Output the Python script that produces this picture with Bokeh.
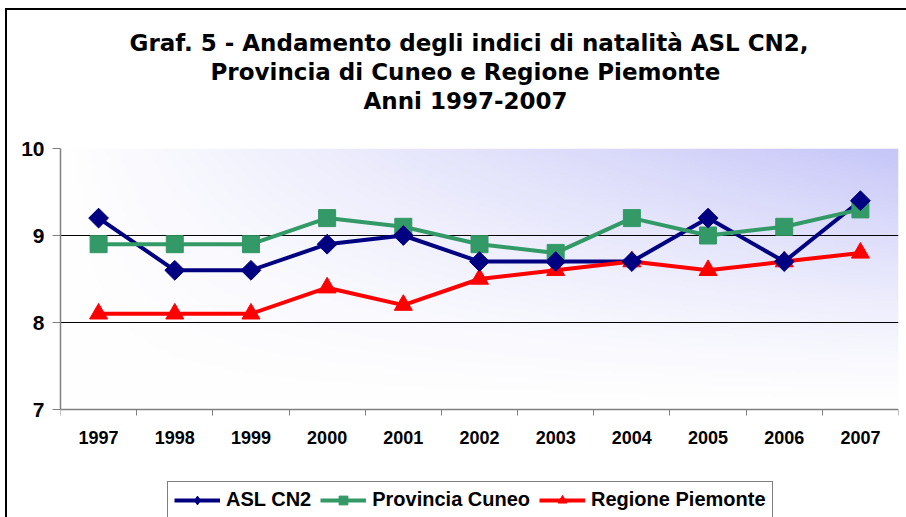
import numpy as np
from bokeh.plotting import figure
from bokeh.models import (FixedTicker, Legend, LegendItem, Title, Range1d,
                          ColumnDataSource)
from bokeh.embed import file_html
from bokeh.resources import INLINE

# ---------------- data ----------------
years = ["1997", "1998", "1999", "2000", "2001", "2002",
         "2003", "2004", "2005", "2006", "2007"]
asl_cn2 = [9.2, 8.6, 8.6, 8.9, 9.0, 8.7, 8.7, 8.7, 9.2, 8.7, 9.4]
provincia_cuneo = [8.9, 8.9, 8.9, 9.2, 9.1, 8.9, 8.8, 9.2, 9.0, 9.1, 9.3]
regione_piemonte = [8.1, 8.1, 8.1, 8.4, 8.2, 8.5, 8.6, 8.7, 8.6, 8.7, 8.8]
y_ticks = [7, 8, 9, 10]
series_names = ["ASL CN2", "Provincia Cuneo", "Regione Piemonte"]
title_lines = ["Graf. 5 - Andamento degli indici di natalità ASL CN2,",
               "Provincia di Cuneo e Regione Piemonte",
               "Anni 1997-2007"]

NAVY = "#000080"
GREEN = "#339966"
RED = "#FF0000"
FONT = "Liberation Sans"
TFONT = "DejaVu Sans"

n = len(years)
xs = list(range(n))
x_lo, x_hi = -0.5, n - 0.5
y_lo, y_hi = y_ticks[0], y_ticks[-1]

# layout: the plotting area (7..10) is 261px tall; below it 108px hold the
# axis labels and the legend inside the same frame
PLOT_PX = 261
EXTRA_PX = 108
y_bottom = y_lo - (y_hi - y_lo) * EXTRA_PX / PLOT_PX

p = figure(frame_width=838, frame_height=PLOT_PX + EXTRA_PX,
           output_backend="svg", toolbar_location=None, title=None,
           x_range=Range1d(x_lo, x_hi), y_range=Range1d(y_bottom, y_hi),
           min_border_left=53, min_border_right=8,
           min_border_top=138, min_border_bottom=0)
p.margin = (8, 0, 0, 5)
p.styles = {"border-top": "2px solid #000000", "border-left": "2px solid #000000"}
p.outline_line_color = None
p.background_fill_color = "white"
p.border_fill_color = "white"

# ---------------- gradient background ----------------
nx, ny = 240, 120
xf = np.linspace(0, 1, nx)
yf = np.linspace(0, 1, ny)
t = np.outer(yf ** 1.3, xf)
img = np.empty((ny, nx), dtype=np.uint32)
view = img.view(dtype=np.uint8).reshape((ny, nx, 4))
view[:, :, 0] = (255 - t * 57).astype(np.uint8)
view[:, :, 1] = (255 - t * 57).astype(np.uint8)
view[:, :, 2] = (255 - t * 7).astype(np.uint8)
view[:, :, 3] = 255
p.image_rgba(image=[img], x=x_lo, y=y_lo, dw=x_hi - x_lo, dh=y_hi - y_lo,
             level="image")

# ---------------- series ----------------
src = ColumnDataSource(dict(x=xs, asl=asl_cn2, prov=provincia_cuneo, reg=regione_piemonte))

l1 = p.line("x", "asl", source=src, line_color=NAVY, line_width=4)
l2 = p.line("x", "prov", source=src, line_color=GREEN, line_width=4)
l3 = p.line("x", "reg", source=src, line_color=RED, line_width=4)
p.scatter("x", "prov", source=src, marker="square", size=17, color=GREEN)
p.scatter("x", "reg", source=src, marker="triangle", size=18, color=RED)
p.scatter("x", "asl", source=src, marker="square", angle=np.pi / 4, size=14, color=NAVY)

# small markers used only for the legend swatches
d1 = p.scatter("x", "asl", source=src, marker="diamond", size=12,
               color=NAVY, visible=False)
d2 = p.scatter("x", "prov", source=src, marker="square", size=10, color=GREEN,
               visible=False)
d3 = p.scatter("x", "reg", source=src, marker="triangle", size=12, color=RED,
               visible=False)

# ---------------- axes ----------------
p.xaxis.fixed_location = y_lo
p.xaxis.ticker = FixedTicker(ticks=xs, minor_ticks=[i - 0.5 for i in range(n + 1)])
p.xaxis.major_label_overrides = {i: yr for i, yr in enumerate(years)}
p.xaxis.major_tick_out = 0
p.xaxis.major_tick_in = 0
p.xaxis.minor_tick_out = 6
p.xaxis.minor_tick_in = 0
p.xaxis.minor_tick_line_color = "#808080"
p.xaxis.axis_line_color = "#808080"
p.xaxis.axis_line_width = 1.5
p.xaxis.major_label_text_font = FONT
p.xaxis.major_label_text_font_style = "bold"
p.xaxis.major_label_text_font_size = "18px"
p.xaxis.major_label_text_color = "black"
p.xaxis.major_label_standoff = 15

p.yaxis.bounds = (y_lo, y_hi)
p.yaxis.ticker = FixedTicker(ticks=y_ticks)
p.yaxis.major_tick_out = 8
p.yaxis.major_tick_in = 0
p.yaxis.minor_tick_out = 0
p.yaxis.minor_tick_in = 0
p.yaxis.major_tick_line_color = "#808080"
p.yaxis.axis_line_color = "#808080"
p.yaxis.axis_line_width = 1.5
p.yaxis.major_label_text_font = FONT
p.yaxis.major_label_text_font_style = "bold"
p.yaxis.major_label_text_font_size = "21px"
p.yaxis.major_label_text_color = "black"
p.yaxis.major_label_standoff = 8

p.xgrid.visible = False
p.ygrid.ticker = FixedTicker(ticks=y_ticks[1:])
p.ygrid.grid_line_color = "#000000"
p.ygrid.grid_line_width = 1

# ---------------- title (nearest to frame first) ----------------
title_offsets = [69, 150, 303]
title_standoffs = [0, 2, 0]
p.add_layout(Title(text=" ", text_font_size="10px", standoff=22), "above")
for line, off, so in reversed(list(zip(title_lines, title_offsets, title_standoffs))):
    p.add_layout(Title(text=line, align="left", offset=off, standoff=so,
                       text_font=TFONT, text_font_style="bold",
                       text_font_size="23px", text_color="black"), "above")

# ---------------- legend ----------------
legend = Legend(items=[LegendItem(label=series_names[0], renderers=[l1, d1]),
                       LegendItem(label=series_names[1], renderers=[l2, d2]),
                       LegendItem(label=series_names[2], renderers=[l3, d3])],
                orientation="horizontal", location=(107, -1),
                border_line_color="black", border_line_width=1,
                background_fill_color="white", background_fill_alpha=1,
                label_text_font=FONT, label_text_font_style="bold",
                label_text_font_size="20px", label_text_color="black",
                glyph_width=46, glyph_height=22, label_height=22,
                label_standoff=6, spacing=9, padding=6, margin=0)
p.add_layout(legend, "center")

open("out.html", "w").write(file_html(p, INLINE))
